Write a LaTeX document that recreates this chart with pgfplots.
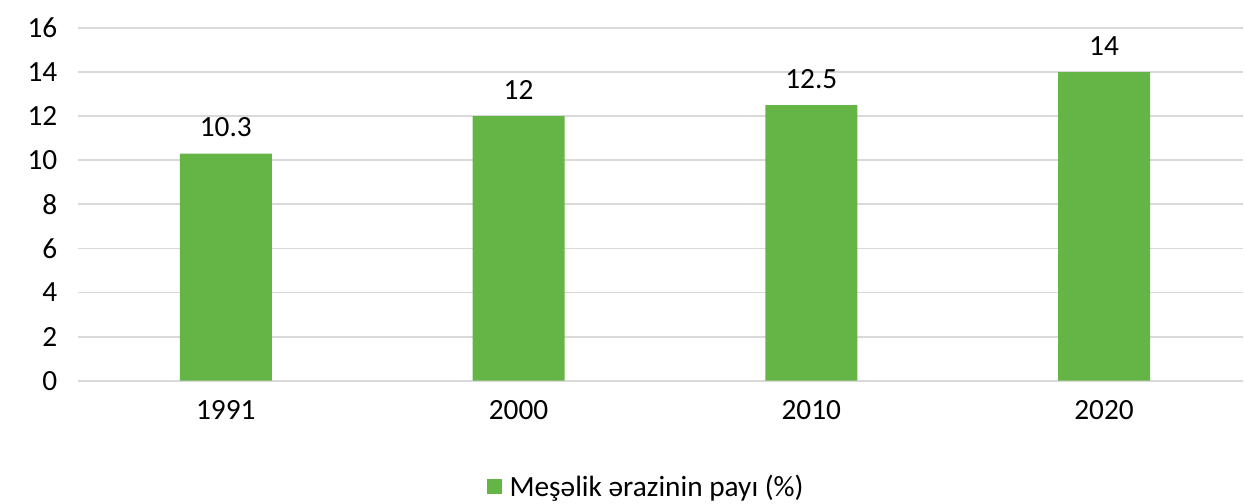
\documentclass[border=0pt]{standalone}
\usepackage{fontspec}
\setmainfont{Carlito}
\usepackage{pgfplots}
\pgfplotsset{compat=1.18}

\definecolor{bargreen}{RGB}{101,180,70}
\definecolor{gridgray}{RGB}{217,217,217}

\begin{document}
\begin{tikzpicture}[x=1pt,y=1pt]
\begin{axis}[
  name=ax,
  scale only axis,
  width=874.5pt,
  height=264.75pt,
  xmin=-0.505, xmax=3.475,
  ymin=0, ymax=16,
  ytick={0,2,...,16},
  xtick=data,
  xticklabels={1991,2000,2010,2020},
  axis line style={draw=none},
  ymajorgrids,
  major grid style={gridgray,line width=1.3pt},
  major tick length=0pt,
  /pgf/number format/assume math mode=true,
  tick label style={font=\fontsize{22}{24}\selectfont, text=black},
  yticklabel style={xshift=-12pt},
  xticklabel style={yshift=-11pt},
  ybar,
  bar width=69pt,
  nodes near coords,
  nodes near coords style={font=\fontsize{22}{24}\selectfont, text=black, yshift=9pt},
  legend style={draw=none, at={(0.488,-0.30)}, anchor=center,
    font=\fontsize{22}{24}\selectfont, legend cell align=left,
    /tikz/every even column/.append style={column sep=0pt}},
  legend image code/.code={\fill[bargreen] (0pt,-5.5pt) rectangle (11pt,5.5pt);},
]
\addplot[fill=bargreen, draw=none] coordinates {(0,10.3) (1,12) (2,12.5) (3,14)};
\legend{\hspace{4pt}Meşəlik ərazinin payı (\%)}
\end{axis}
\path ([xshift=-58.5pt,yshift=-88.5pt]ax.south west) rectangle ([yshift=21pt]ax.north east);
\end{tikzpicture}
\end{document}
